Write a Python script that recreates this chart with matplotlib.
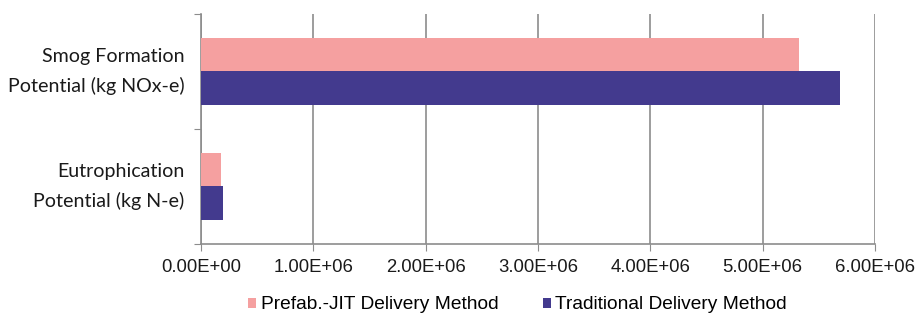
import matplotlib
matplotlib.use("Agg")
import matplotlib.pyplot as plt
import numpy as np

categories = ['Eutrophication\nPotential (kg N-e)', 'Smog Formation\nPotential (kg NOx-e)']
prefab = [0.18e6, 5.32e6]
traditional = [0.196e6, 5.69e6]
series_names = ['Prefab.-JIT Delivery Method', 'Traditional Delivery Method']
xticks = [0, 1e6, 2e6, 3e6, 4e6, 5e6, 6e6]
xtick_labels = ['0.00E+00', '1.00E+06', '2.00E+06', '3.00E+06', '4.00E+06', '5.00E+06', '6.00E+06']

pink = '#F5A0A0'
navy = '#433A8E'
grid_col = '#8C8C8C'

fig = plt.figure(figsize=(9.16, 3.18), dpi=100)
ax = fig.add_axes([0.2194, 0.2327, 0.7358, 0.7233])

y = np.arange(len(categories))
h = 0.295
ax.barh(y + h / 2, prefab, height=h, color=pink, label=series_names[0], zorder=3)
ax.barh(y - h / 2, traditional, height=h, color=navy, label=series_names[1], zorder=3)

ax.set_xlim(0, 6e6)
ax.set_ylim(-0.5, 1.5)
ax.set_xticks(xticks)
ax.set_xticklabels(xtick_labels, fontsize=13.3, family='Liberation Sans', color='#1a1a1a')
ax.tick_params(axis='x', length=5, color=grid_col, pad=6)
ax.xaxis.grid(True, color=grid_col, linewidth=1.2, zorder=0)

# category boundaries carry the tick marks, labels sit in between
ax.set_yticks([-0.5, 0.5, 1.5])
ax.set_yticklabels([])
ax.set_yticks(y, minor=True)
ax.set_yticklabels(categories, minor=True, fontsize=14.1, family='Lato', color='#1a1a1a',
                   linespacing=1.8, va='center')
ax.tick_params(axis='y', which='major', length=5, color=grid_col)
ax.tick_params(axis='y', which='minor', length=0, pad=12)

for s in ['top', 'right']:
    ax.spines[s].set_visible(False)
for s in ['left', 'bottom']:
    ax.spines[s].set_color(grid_col)
    ax.spines[s].set_linewidth(1.2)

fig.legend(loc='center', bbox_to_anchor=(0.565, 0.041), ncol=2, frameon=False,
           prop={'family': 'Liberation Sans', 'size': 13.8}, handlelength=0.42,
           handleheight=0.42, handletextpad=0.25, columnspacing=2.3)

fig.savefig('out.png', dpi=100)
